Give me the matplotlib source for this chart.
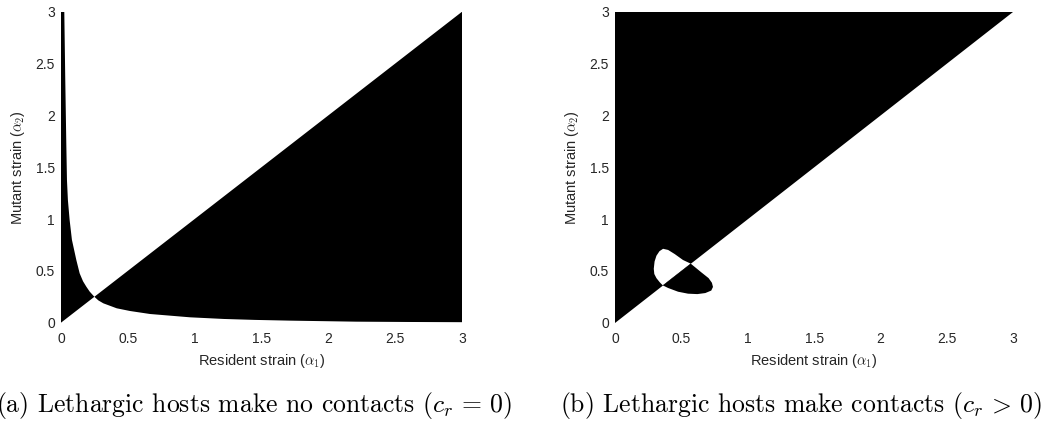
import numpy as np
import matplotlib
matplotlib.use("Agg")
import matplotlib.pyplot as plt

plt.rcParams['font.family'] = ['Liberation Sans', 'DejaVu Sans']
plt.rcParams['mathtext.fontset'] = 'cm'

# axis range shared by both panels
lim = 3.0
ticks = [0, 0.5, 1, 1.5, 2, 2.5, 3]
tick_labels = ['0', '0.5', '1', '1.5', '2', '2.5', '3']

# panel (a): boundary where mutant fitness changes sign
# branch below the diagonal
low_x = [0.25, 0.28, 0.317, 0.417, 0.516, 0.666, 0.816, 0.966, 1.22, 1.45, 1.71, 2.21, 2.6, 3.0]
low_y = [0.25, 0.215, 0.187, 0.139, 0.113, 0.084, 0.068, 0.052, 0.036, 0.027, 0.02, 0.01, 0.007, 0.005]
# branch above the diagonal, going up from the crossing point
up_x = [0.25, 0.215, 0.19, 0.165, 0.14, 0.115, 0.082, 0.065, 0.052, 0.045, 0.04, 0.032, 0.025]
up_y = [0.25, 0.30, 0.347, 0.40, 0.476, 0.605, 0.80, 0.99, 1.183, 1.376, 1.73, 2.37, 3.0]

# panel (b): loop around the singular point
loop_up_x = [0.36, 0.337, 0.312, 0.296, 0.292, 0.298, 0.312, 0.335, 0.362, 0.40, 0.45, 0.512, 0.57]
loop_up_y = [0.36, 0.39, 0.43, 0.47, 0.52, 0.59, 0.646, 0.69, 0.713, 0.702, 0.662, 0.605, 0.57]
loop_low_x = [0.57, 0.65, 0.705, 0.73, 0.738, 0.725, 0.68, 0.62, 0.55, 0.475, 0.40, 0.36]
loop_low_y = [0.57, 0.486, 0.43, 0.385, 0.345, 0.31, 0.286, 0.276, 0.28, 0.299, 0.335, 0.36]

captions = [r"(a) Lethargic hosts make no contacts $(c_r\,=\,0)$",
            r"(b) Lethargic hosts make contacts $(c_r\,>\,0)$"]
xlabel = r"Resident strain ($\alpha_1$)"
ylabel = r"Mutant strain ($\alpha_2$)"

fig = plt.figure(figsize=(10.6, 4.23), dpi=100)
ax_a = fig.add_axes([0.0575, 0.2371, 0.3784, 0.7352])
ax_b = fig.add_axes([0.5802, 0.2371, 0.3757, 0.7352])

# (a) region between the diagonal and the lower branch
xa = np.array(list(low_x) + [lim])
ya = np.array(list(low_y) + [lim])
ax_a.fill(xa, ya, color='k', lw=0)
# (a) sliver left of the upper branch
xs = np.array([0, 0] + list(up_x[::-1]))
ys = np.array([0, lim] + list(up_y[::-1]))
ax_a.fill(xs, ys, color='k', lw=0)

# (b) triangle above the diagonal, then the loop flips the sign
ax_b.fill([0, 0, lim], [0, lim, lim], color='k', lw=0)
ax_b.fill(loop_up_x, loop_up_y, color='white', lw=0)
ax_b.fill(loop_low_x, loop_low_y, color='k', lw=0)

for ax in (ax_a, ax_b):
    ax.set_xlim(0, lim)
    ax.set_ylim(0, lim)
    ax.set_xticks(ticks)
    ax.set_xticklabels(tick_labels)
    ax.set_yticks(ticks)
    ax.set_yticklabels(tick_labels)
    for s in ax.spines.values():
        s.set_visible(False)
    ax.tick_params(length=0, labelsize=10, colors='#262626')
    ax.tick_params(axis='x', pad=7)
    ax.tick_params(axis='y', pad=4.3)
    ax.set_xlabel(xlabel, fontsize=10.5, va='center', color='#262626')
    ax.set_ylabel(ylabel, fontsize=10.5, va='center', color='#262626')
    ax.xaxis.set_label_coords(0.5, -0.122)
    ax.yaxis.set_label_coords(-0.108, 0.5)

fig.text(0.2396, 0.0267, captions[0], ha='center', va='baseline',
         family='cmr10', fontsize=18.5)
fig.text(0.7557, 0.0267, captions[1], ha='center', va='baseline',
         family='cmr10', fontsize=18.5)

fig.savefig("out.png", dpi=100)
